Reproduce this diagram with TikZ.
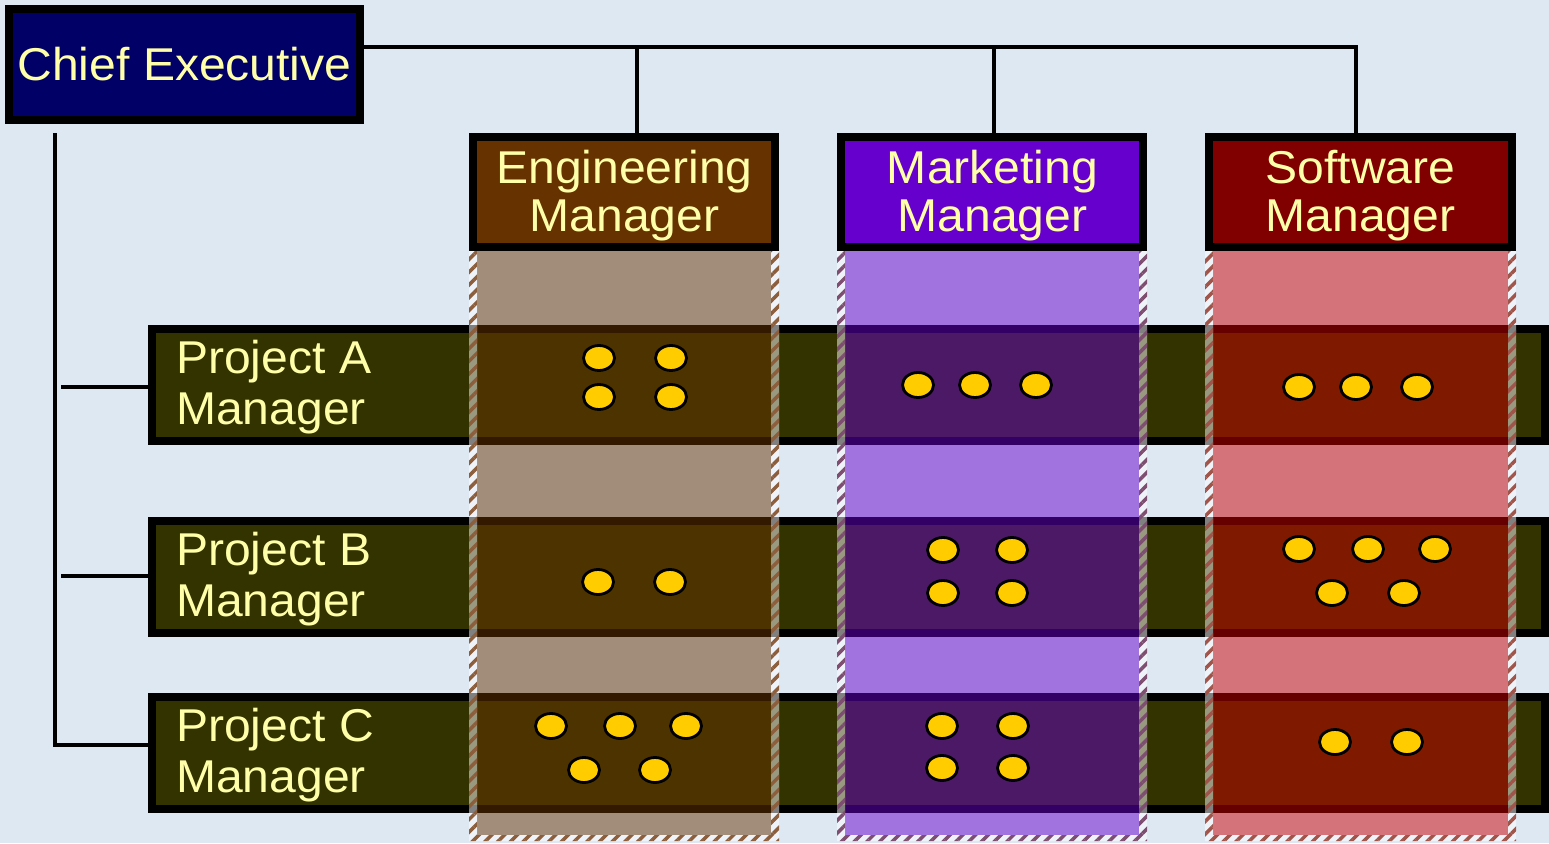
\documentclass[tikz,border=0pt]{standalone}
\usepackage{fontspec}
\setmainfont{Liberation Sans}[FakeStretch=1.045]
\usetikzlibrary{patterns.meta,shapes.geometric}
\definecolor{bg}{RGB}{222,232,243}
\definecolor{navy}{RGB}{0,0,102}
\definecolor{engc}{RGB}{102,51,0}
\definecolor{mktc}{RGB}{102,0,204}
\definecolor{swc}{RGB}{128,0,0}
\definecolor{swcol}{RGB}{204,0,0}
\definecolor{barc}{RGB}{51,51,0}
\definecolor{txt}{RGB}{255,255,170}
\definecolor{dotc}{RGB}{255,204,0}
\definecolor{stE}{RGB}{140,94,60}
\definecolor{stM}{RGB}{126,78,112}
\definecolor{stS}{RGB}{160,84,74}
\begin{document}
\begin{tikzpicture}[x=1pt,y=-1pt,
 box/.style={draw=black,line width=8pt,inner sep=0pt},
 mbox/.style={box,minimum width=302pt,minimum height=110pt},
 bar/.style={box,fill=barc,minimum width=1393pt,minimum height=112pt},
 lab/.style={text=txt,font=\fontsize{46}{48}\selectfont,align=center,inner sep=0pt},
 plab/.style={text=txt,font=\fontsize{46}{51}\selectfont,align=left,inner sep=0pt,anchor=west},
 conn/.style={draw=black,line width=4.5pt},
 dot/.style={ellipse,draw=black,line width=2.8pt,fill=dotc,minimum width=31pt,minimum height=25pt,inner sep=0pt},
 strip/.style={preaction={fill=white,fill opacity=.5},pattern={Lines[angle=45,distance=9pt,line width=3.5pt]},pattern color=#1}]
\fill[bg] (0,0) rectangle (1549,843);
\useasboundingbox (0,0) rectangle (1549,843);
% Chief executive
\node[box,fill=navy,minimum width=351pt,minimum height=111pt] (ce) at (184.5,64.5) {};
\node[lab] (ceT) at (184.5,64) {Chief Executive};
% functional managers
\node[mbox,fill=engc] (em) at (624,192) {};
\node[mbox,fill=mktc] (mm) at (992,192) {};
\node[mbox,fill=swc,minimum width=303pt] (sm) at (1360.5,192) {};
\node[lab] (emT) at (624.5,195.5) {Engineering\\Manager};
\node[lab] (mmT) at (992.5,195.5) {Marketing\\Manager};
\node[lab] (smT) at (1360.5,195.5) {Software\\Manager};
% top connectors
\coordinate (hy) at (0,47);
\coordinate (tE) at (637,47);
\coordinate (tM) at (994,47);
\coordinate (tS) at (1356,47);
\draw[conn] (ce.east |- hy) -- (tS) -- (tS |- sm.north);
\draw[conn] (tE) -- (tE |- em.north);
\draw[conn] (tM) -- (tM |- mm.north);
% project bars
\node[bar] (pa) at (848.5,385) {};
\node[bar] (pb) at (848.5,577) {};
\node[bar] (pc) at (848.5,753) {};
\node[plab] (paT) at (176,387) {Project A\\Manager};
\node[plab] (pbT) at (176,579) {Project B\\Manager};
\node[plab] (pcT) at (176,755) {Project C\\Manager};
% left connectors
\coordinate (lt) at (55,133);
\coordinate (lb) at (55,745);
\coordinate (bA) at (61,387);
\coordinate (bB) at (61,576);
\draw[conn] (lt) -- (lb) -- (lb -| pc.west);
\draw[conn] (bA) -- (bA -| pa.west);
\draw[conn] (bB) -- (bB -| pb.west);
% columns
\fill[engc,fill opacity=.5] (477,251) rectangle (771,835);
\fill[mktc,fill opacity=.5] (845,251) rectangle (1139,835);
\fill[swcol,fill opacity=.5] (1213,251) rectangle (1508,835);
\path[strip=stE] (469,251) rectangle (477,841) (771,251) rectangle (779,841) (477,835) rectangle (771,841);
\path[strip=stM] (837,251) rectangle (845,841) (1139,251) rectangle (1147,841) (845,835) rectangle (1139,841);
\path[strip=stS] (1205,251) rectangle (1213,841) (1508,251) rectangle (1516,841) (1213,835) rectangle (1508,841);
% dots
\foreach \p [count=\i] in {(599,358),(671,358),(599,397),(671,397),
  (918,385),(975,385),(1036,385),
  (1299,387),(1356,387),(1417,387),
  (598,582),(670,582),
  (943,550),(1012,550),(943,593),(1012,593),
  (1299,549),(1368,549),(1435,549),(1332,593),(1404,593),
  (551,726),(620,726),(686,726),(584,770),(655,770),
  (942,726),(1013,726),(942,768),(1013,768),
  (1335,742),(1407,742)}
  \node[dot] (d\i) at \p {};
\end{tikzpicture}
\end{document}
